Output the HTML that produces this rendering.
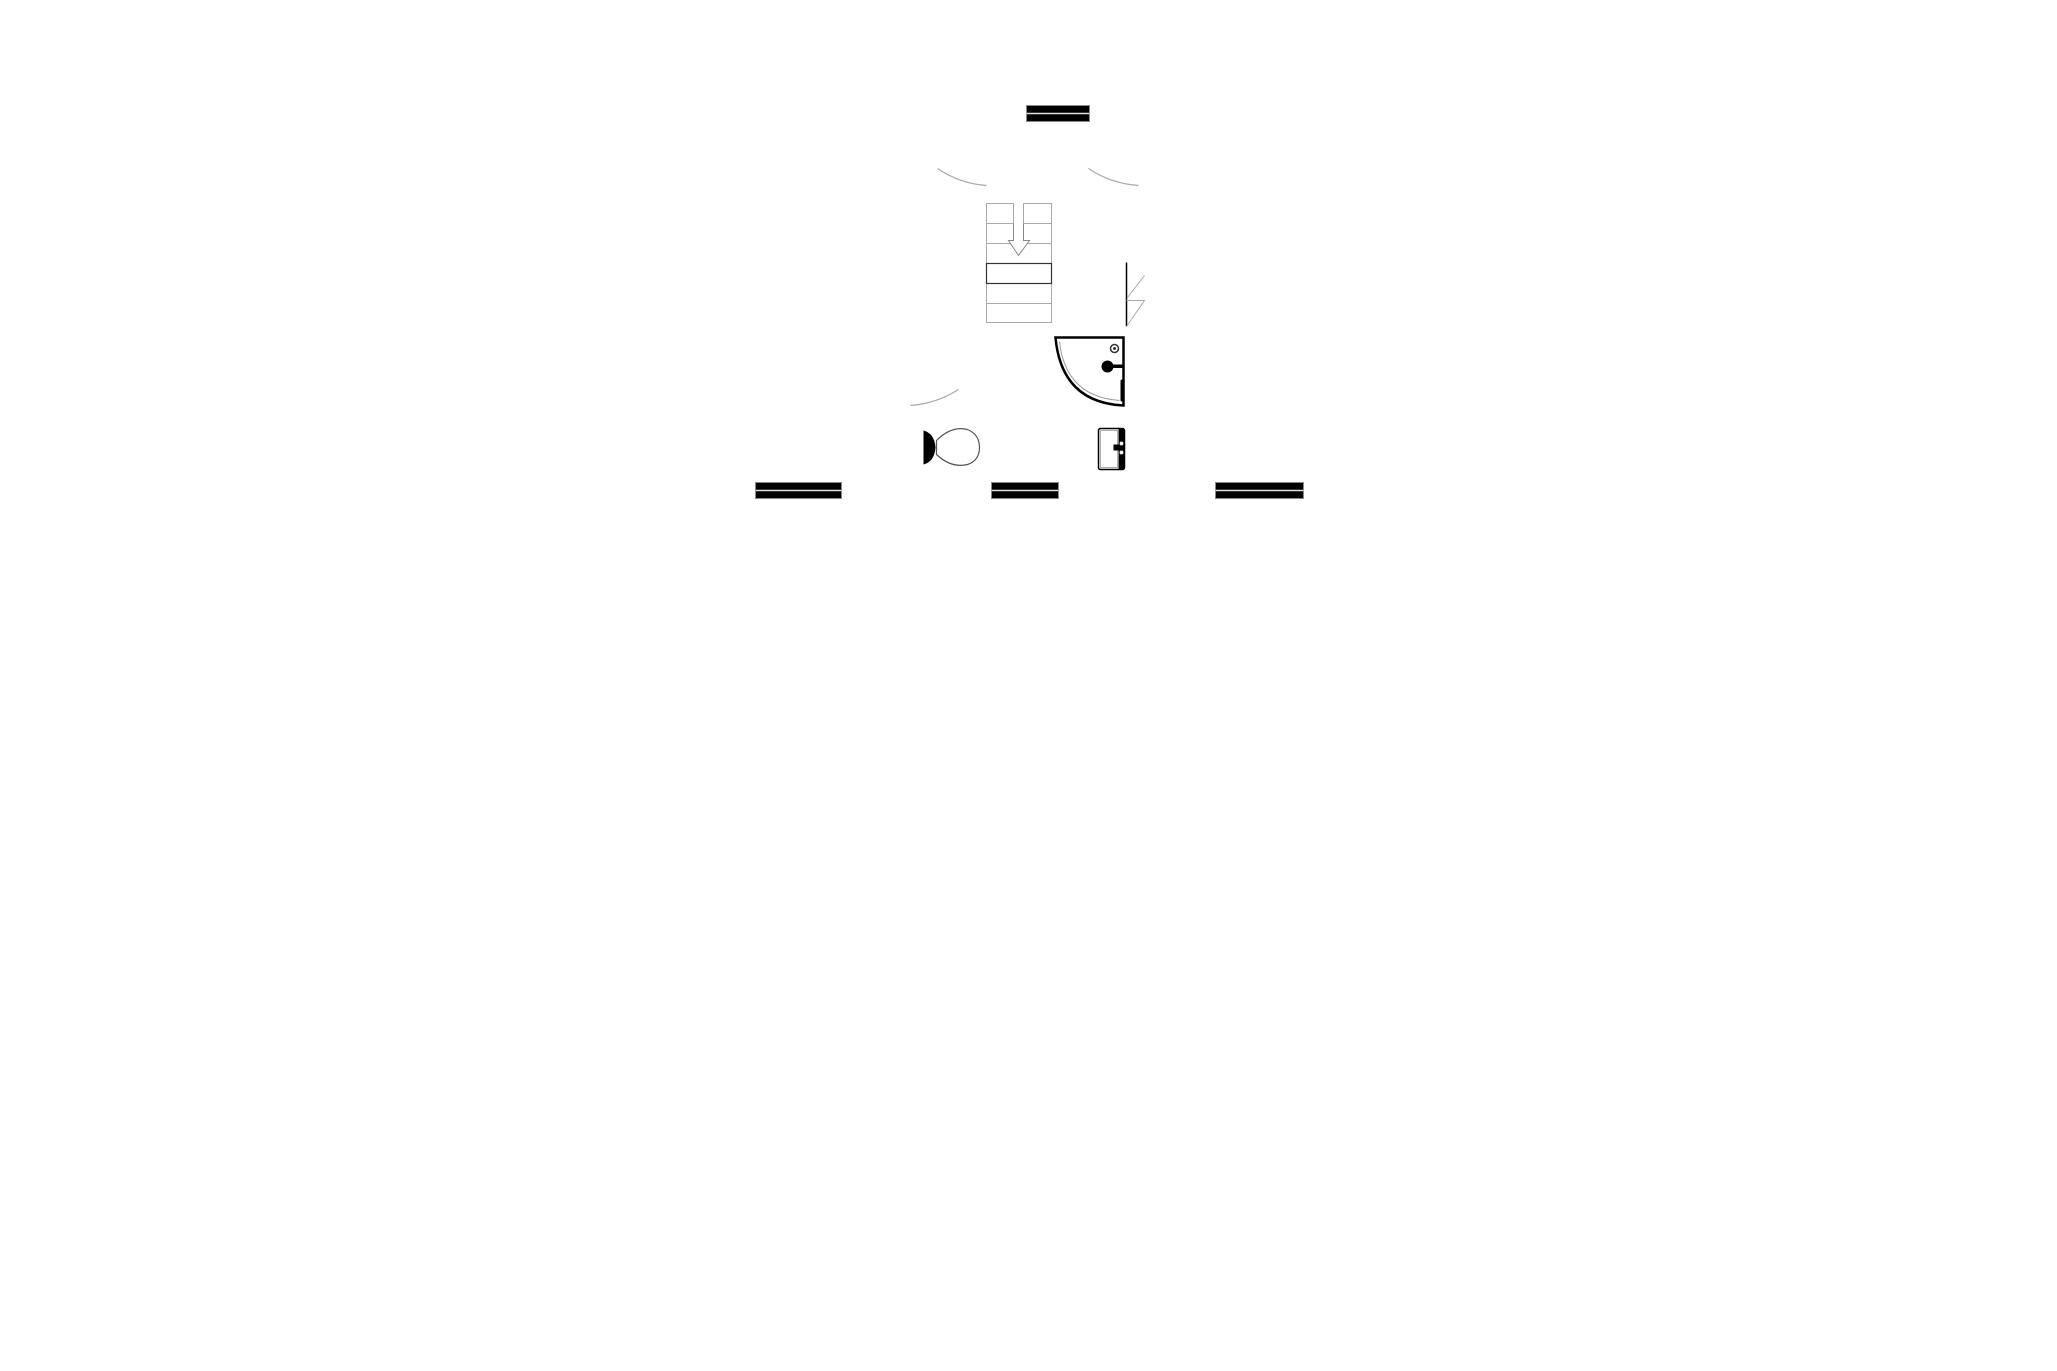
<!DOCTYPE html>
<html><head><meta charset="utf-8"><style>html,body{margin:0;padding:0;background:#fff;}svg{display:block}</style></head>
<body>
<svg width="2057" height="1371" viewBox="0 0 2057 1371" xmlns="http://www.w3.org/2000/svg">
<rect width="2057" height="1371" fill="#fff"/>
<g transform="translate(1.5,0.5)">
<g fill="#000" stroke="#888" stroke-width="1">
<rect x="1025" y="105" width="63" height="16"/>
<rect x="754" y="482" width="86" height="16"/>
<rect x="990" y="482" width="67" height="16"/>
<rect x="1214" y="482" width="88" height="16"/>
</g>
<g stroke="#ddd" stroke-width="1.5">
<line x1="1025" y1="113" x2="1088" y2="113"/>
<line x1="754" y1="490" x2="840" y2="490"/>
<line x1="990" y1="490" x2="1057" y2="490"/>
<line x1="1214" y1="490" x2="1302" y2="490"/>
</g>
<g fill="none" stroke="#aaa" stroke-width="1.3">
<path d="M936 168 Q958 183 985 185"/>
<path d="M1087 168 Q1109 183 1137 185"/>
<path d="M909 405 Q935 403 957 389"/>
</g>
<g fill="#fff" stroke="#aaa" stroke-width="1">
<rect x="985" y="203" width="27" height="20"/>
<rect x="1022" y="203" width="28" height="20"/>
<rect x="985" y="223" width="27" height="20"/>
<rect x="1022" y="223" width="28" height="20"/>
<rect x="985" y="243" width="65" height="20"/>
<rect x="985" y="283" width="65" height="20"/>
<rect x="985" y="303" width="65" height="19"/>
</g>
<rect x="985" y="263" width="65" height="20" fill="#fff" stroke="#333" stroke-width="1.2"/>
<path d="M1012 223 L1012 240 L1007 240 L1017 255 L1028 240 L1022 240 L1022 223" fill="#fff" stroke="#888" stroke-width="1"/>
<line x1="1125" y1="262" x2="1125" y2="326" stroke="#000" stroke-width="1.5"/>
<line x1="1143" y1="275" x2="1126" y2="297" stroke="#aaa" stroke-width="1"/>
<path d="M1125 300 L1143 300 L1125 326" fill="none" stroke="#aaa" stroke-width="1"/>
<path d="M1054 337 L1122 337 L1122 405 Q1060 402 1054 337 Z" fill="#fff" stroke="#000" stroke-width="2.5"/>
<path d="M1058 341 Q1064 396 1118 400" fill="none" stroke="#999" stroke-width="1"/>
<circle cx="1113" cy="348" r="4" fill="#fff" stroke="#333" stroke-width="1.5"/>
<circle cx="1113" cy="348" r="1.5" fill="#333"/>
<circle cx="1106" cy="366" r="6" fill="#000"/>
<rect x="1106" y="364" width="15" height="3.5" fill="#000"/>
<rect x="1119" y="379" width="4" height="22" rx="1.5" fill="#000"/>
<path d="M922 430 Q933 433 934 447 Q933 461 922 464 Z" fill="#000"/>
<path d="M935 440 Q950 425 966 429 Q978 434 978 447 Q978 460 966 464 Q950 468 935 454 Z" fill="#fff" stroke="#555" stroke-width="1.2"/>
<rect x="1097" y="428" width="26" height="41" rx="2" fill="#fff" stroke="#000" stroke-width="1.5"/>
<rect x="1099" y="430" width="17" height="37" fill="#fff" stroke="#999" stroke-width="0.8"/>
<rect x="1117" y="428" width="6" height="41" fill="#000"/>
<rect x="1112" y="444" width="6" height="6" fill="#000"/>
<circle cx="1120" cy="443" r="2" fill="#fff" stroke="#555" stroke-width="0.6"/>
<circle cx="1120" cy="452" r="2" fill="#fff" stroke="#555" stroke-width="0.6"/>
</g>
</svg>
</body></html>
